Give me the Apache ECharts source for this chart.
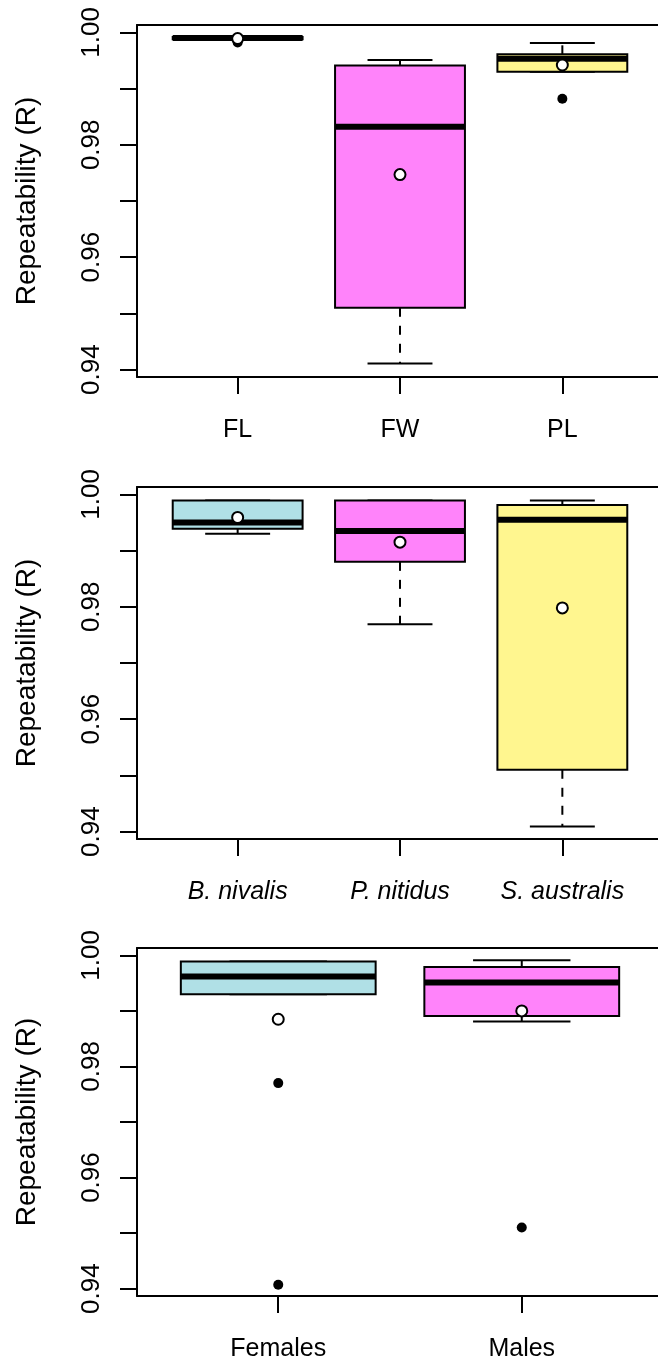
<!DOCTYPE html>
<html>
<head>
<meta charset="utf-8">
<script src="https://cdn.jsdelivr.net/npm/echarts@6/dist/echarts.min.js"></script>
<style>
  html, body { margin: 0; padding: 0; background: #fff; overflow: hidden; }
  #chart { width: 680px; height: 1362px; }
</style>
</head>
<body>
<div id="chart"></div>
<script>
// Five-number summaries per group: [lower whisker, Q1, median, Q3, upper whisker]
const traitNames = ['FL', 'FW', 'PL'];
const traitStats = [
  [0.9988, 0.9988, 0.9990, 0.9992, 0.9992],
  [0.9411, 0.9510, 0.9832, 0.9941, 0.9951],
  [0.9930, 0.9930, 0.9953, 0.9961, 0.9981]
];
const traitMeans = [0.9989, 0.9747, 0.9942];
const traitOutliers = [[0, 0.9982], [2, 0.9882]];

const speciesNames = ['B. nivalis', 'P. nitidus', 'S. australis'];
const speciesStats = [
  [0.9930, 0.9939, 0.9950, 0.9989, 0.9989],
  [0.9769, 0.9880, 0.9935, 0.9989, 0.9989],
  [0.9409, 0.9510, 0.9955, 0.9981, 0.9989]
];
const speciesMeans = [0.9959, 0.9915, 0.9798];
const speciesOutliers = [];

const sexNames = ['Females', 'Males'];
const sexStats = [
  [0.9930, 0.9930, 0.9962, 0.9989, 0.9989],
  [0.9881, 0.9891, 0.9951, 0.9979, 0.9991]
];
const sexMeans = [0.9885, 0.9900];
const sexOutliers = [[0, 0.9770], [0, 0.9407], [1, 0.9510]];

const yTicks = [0.94, 0.95, 0.96, 0.97, 0.98, 0.99, 1.00];
const yTickLabels = [0.94, 0.96, 0.98, 1.00];
const yTitle = 'Repeatability (R)';

const boxColors = ['#B0E0E6', '#FF83FA', '#FFF68F'];
const FONT = '"Liberation Sans", Arial, sans-serif';

const panels = [
  { names: traitNames, stats: traitStats, means: traitMeans, outliers: traitOutliers, top: 25, italic: false },
  { names: speciesNames, stats: speciesStats, means: speciesMeans, outliers: speciesOutliers, top: 487, italic: true },
  { names: sexNames, stats: sexStats, means: sexMeans, outliers: sexOutliers, top: 948, italic: false }
];

const PANEL_H = 352;
const BOX_W = 0.8;

function renderBox(params, api) {
  const x = api.value(0);
  const lo = api.value(1), q1 = api.value(2), med = api.value(3), q3 = api.value(4), hi = api.value(5);
  const half = api.size([BOX_W, 0])[0] / 2;
  const staple = half / 2;
  const pLo = api.coord([x, lo]);
  const pQ1 = api.coord([x, q1]);
  const pMed = api.coord([x, med]);
  const pQ3 = api.coord([x, q3]);
  const pHi = api.coord([x, hi]);
  const cx = pMed[0];
  const children = [];
  const whisk = { stroke: '#000', lineWidth: 2, lineDash: [9, 9] };
  const solid = { stroke: '#000', lineWidth: 2 };
  if (hi > q3) {
    children.push({ type: 'line', shape: { x1: cx, y1: pQ3[1], x2: cx, y2: pHi[1] }, style: whisk });
  }
  if (lo < q1) {
    children.push({ type: 'line', shape: { x1: cx, y1: pQ1[1], x2: cx, y2: pLo[1] }, style: whisk });
  }
  children.push({ type: 'line', shape: { x1: cx - staple, y1: pHi[1], x2: cx + staple, y2: pHi[1] }, style: solid });
  children.push({ type: 'line', shape: { x1: cx - staple, y1: pLo[1], x2: cx + staple, y2: pLo[1] }, style: solid });
  children.push({
    type: 'rect',
    shape: { x: cx - half, y: pQ3[1], width: half * 2, height: pQ1[1] - pQ3[1] },
    style: { fill: boxColors[api.value(6)], stroke: '#000', lineWidth: 2 }
  });
  children.push({ type: 'line', shape: { x1: cx - half, y1: pMed[1], x2: cx + half, y2: pMed[1] }, style: { stroke: '#000', lineWidth: 6 } });
  return { type: 'group', children: children };
}

const grid = [], xAxis = [], yAxis = [], series = [];
panels.forEach(function (p, i) {
  const n = p.names.length;
  const positions = p.names.map(function (_, k) { return k + 1; });
  const pad = 0.04 * n;
  grid.push({ left: 137, width: 526, top: p.top, height: PANEL_H, show: false });
  // bottom axis with group names
  xAxis.push({
    type: 'value', gridIndex: i, position: 'bottom', min: 0.5 - pad, max: n + 0.5 + pad,
    splitLine: { show: false },
    axisLine: { show: true, onZero: false, lineStyle: { color: '#000', width: 2 } },
    axisTick: { show: true, customValues: positions, length: 17, lineStyle: { color: '#000', width: 2 } },
    axisLabel: {
      customValues: positions, margin: 41, color: '#000', fontSize: 25, fontFamily: FONT,
      fontStyle: p.italic ? 'italic' : 'normal',
      formatter: function (v) { return p.names[Math.round(v) - 1]; }
    }
  });
  // plain frame line along the top of the panel
  xAxis.push({
    type: 'value', gridIndex: i, position: 'top', min: 0.5 - pad, max: n + 0.5 + pad,
    splitLine: { show: false },
    axisLine: { show: true, onZero: false, lineStyle: { color: '#000', width: 2 } },
    axisTick: { show: false },
    axisLabel: { show: false }
  });
  yAxis.push({
    type: 'value', gridIndex: i, min: 0.93868, max: 1.00132,
    splitLine: { show: false },
    axisLine: { show: true, onZero: false, lineStyle: { color: '#000', width: 2 } },
    axisTick: { show: true, customValues: yTicks, length: 17, lineStyle: { color: '#000', width: 2 } },
    axisLabel: {
      customValues: yTickLabels, rotate: 90, margin: 32, color: '#000', fontSize: 26, fontFamily: FONT,
      align: 'center', verticalAlign: 'bottom',
      formatter: function (v) { return v.toFixed(2); }
    },
    name: yTitle, nameLocation: 'middle', nameGap: 96, nameRotate: 90,
    nameTextStyle: { color: '#000', fontSize: 28, fontFamily: FONT }
  });
  const xi = 2 * i;
  series.push({
    type: 'custom', xAxisIndex: xi, yAxisIndex: i,
    renderItem: renderBox,
    encode: { x: 0, y: [1, 2, 3, 4, 5] },
    data: p.stats.map(function (s, k) { return [k + 1].concat(s).concat([k % boxColors.length]); }),
    z: 2
  });
  series.push({
    type: 'scatter', xAxisIndex: xi, yAxisIndex: i,
    symbol: 'circle', symbolSize: 10,
    itemStyle: { color: '#000', opacity: 1 },
    data: p.outliers.map(function (o) { return [o[0] + 1, o[1]]; }),
    z: 3
  });
  series.push({
    type: 'scatter', xAxisIndex: xi, yAxisIndex: i,
    symbol: 'circle', symbolSize: 11,
    itemStyle: { color: '#fff', borderColor: '#000', borderWidth: 2, opacity: 1 },
    data: p.means.map(function (m, k) { return [k + 1, m]; }),
    z: 4
  });
});

const chart = echarts.init(document.getElementById('chart'), null, { renderer: 'canvas' });
chart.setOption({
  animation: false,
  backgroundColor: '#fff',
  grid: grid,
  xAxis: xAxis,
  yAxis: yAxis,
  series: series
});
</script>
</body>
</html>
